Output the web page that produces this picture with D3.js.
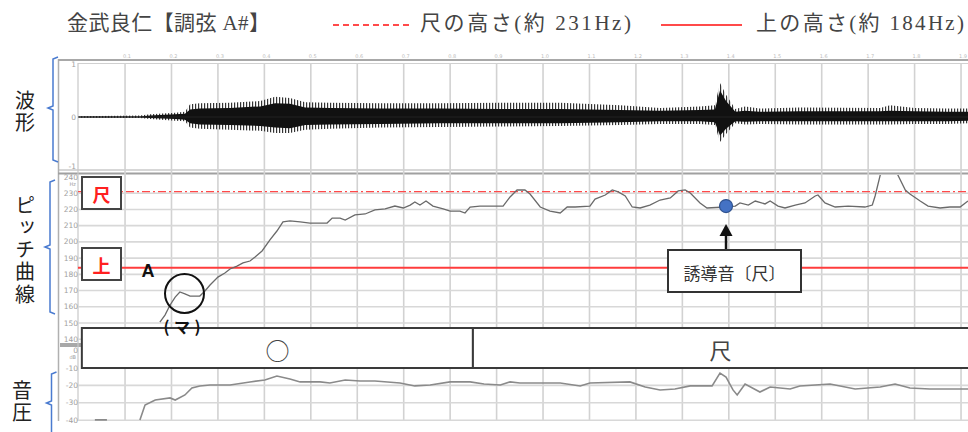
<!DOCTYPE html>
<html><head><meta charset="utf-8">
<script src="https://cdn.jsdelivr.net/npm/d3@7"></script>
<style>html,body{margin:0;padding:0;background:#fff;overflow:hidden}</style>
</head><body><svg id="c" width="968" height="432"></svg>
<script>
// ---------- data ----------
const titleText = "金武良仁【調弦 A#】";
const legendLabels = ["尺の高さ(約 231Hz)", "上の高さ(約 184Hz)"];
const refNames = ["尺", "上"];
const refHz = [231, 184];
const panelNames = ["波形", "ピッチ曲線", "音圧"];

const timeTicks = [0.1,0.2,0.3,0.4,0.5,0.6,0.7,0.8,0.9,1.0,1.1,1.2,1.3,1.4,1.5,1.6,1.7,1.8,1.9];
const waveTicks = [1, 0, -1];
const pitchTicks = [240,230,220,210,200,190,180,170,160,150,140];
const pressureTicks = [0,-10,-20,-30,-40];

const waveTime  = [0.000,0.132,0.154,0.208,0.229,0.240,0.261,0.326,0.391,0.423,0.455,0.488,0.541,0.649,0.778,0.908,1.037,1.166,1.252,1.338,1.370,1.381,1.394,1.414,1.435,1.467,1.553,1.726,1.747,1.800,1.870,1.915];
const waveUpper = [0.015,0.03,0.05,0.08,0.10,0.24,0.26,0.27,0.30,0.38,0.36,0.28,0.27,0.26,0.26,0.27,0.27,0.22,0.17,0.20,0.22,0.64,0.42,0.15,0.20,0.16,0.18,0.17,0.22,0.17,0.16,0.16];
const waveLower = [-0.015,-0.02,-0.04,-0.07,-0.08,-0.20,-0.22,-0.24,-0.26,-0.30,-0.30,-0.24,-0.22,-0.20,-0.19,-0.18,-0.17,-0.15,-0.13,-0.13,-0.15,-0.47,-0.32,-0.12,-0.14,-0.13,-0.14,-0.14,-0.14,-0.13,-0.13,-0.12];
const coreUpper = [0.008,0.01,0.03,0.05,0.06,0.14,0.16,0.17,0.20,0.26,0.25,0.18,0.17,0.16,0.16,0.15,0.15,0.13,0.12,0.13,0.14,0.50,0.30,0.10,0.12,0.10,0.11,0.11,0.12,0.11,0.10,0.10];
const coreLower = [-0.008,-0.01,-0.02,-0.04,-0.05,-0.12,-0.14,-0.15,-0.17,-0.20,-0.21,-0.15,-0.14,-0.13,-0.12,-0.12,-0.12,-0.10,-0.08,-0.08,-0.10,-0.35,-0.22,-0.08,-0.09,-0.08,-0.08,-0.08,-0.08,-0.08,-0.08,-0.07];

const pitchTime = [0.175,0.186,0.197,0.208,0.218,0.229,0.240,0.261,0.272,0.283,0.300,0.315,0.326,0.341,0.354,0.369,0.380,0.395,0.412,0.427,0.440,0.455,0.477,0.498,0.520,0.535,0.546,0.563,0.574,0.595,0.617,0.638,0.660,0.681,0.699,0.714,0.724,0.735,0.748,0.763,0.785,0.800,0.821,0.832,0.843,0.864,0.892,0.914,0.929,0.944,0.961,0.972,0.994,1.015,1.037,1.052,1.069,1.101,1.112,1.134,1.149,1.162,1.177,1.192,1.209,1.230,1.252,1.274,1.291,1.306,1.317,1.338,1.353,1.392,1.414,1.424,1.442,1.457,1.478,1.489,1.506,1.521,1.543,1.564,1.586,1.592,1.607,1.629,1.657,1.693,1.709,1.715,1.726,1.735,1.755,1.764,1.780,1.790,1.812,1.829,1.855,1.876,1.898,1.915];
const pitchHz   = [150.6,154.9,161.1,166.0,169.1,167.9,166.6,166.6,169.7,173.4,178.3,180.8,183.3,185.1,187.0,188.2,190.7,194.4,201.2,206.7,212.3,212.9,212.3,211.6,211.6,211.6,214.7,214.7,213.5,216.6,217.2,219.7,220.3,222.1,220.9,222.7,224.6,222.7,225.2,222.1,220.3,219.0,219.0,217.8,221.5,222.1,222.1,222.1,227.7,232.0,232.0,229.5,221.5,219.0,217.8,221.5,221.5,222.1,226.4,228.9,232.0,230.8,228.3,221.5,220.9,222.7,225.8,227.1,231.4,232.0,230.1,224.0,220.9,221.5,222.1,224.0,222.7,225.2,223.4,225.2,222.1,220.9,222.7,224.0,228.3,228.9,224.0,221.5,222.1,221.5,222.7,228.3,241.2,252.0,252.0,241.2,232.0,229.5,225.2,222.1,220.9,221.5,221.5,225.2];

const pressureTime = [0.035,0.061,0.062,0.132,0.143,0.165,0.197,0.208,0.229,0.244,0.261,0.283,0.326,0.369,0.401,0.427,0.455,0.477,0.520,0.541,0.574,0.606,0.638,0.692,0.724,0.757,0.800,0.843,0.873,0.908,0.929,0.950,1.037,1.080,1.101,1.187,1.220,1.252,1.284,1.317,1.338,1.364,1.381,1.394,1.409,1.418,1.435,1.467,1.489,1.532,1.553,1.586,1.618,1.672,1.726,1.758,1.790,1.833,1.915];
const pressureDb   = [-39.8,-39.8,null,-39.9,-31.3,-28.4,-27.2,-28.4,-25.5,-21.5,-20.3,-19.8,-19.8,-18.0,-16.9,-14.6,-16.3,-18.0,-18.0,-18.6,-16.9,-17.5,-17.5,-18.6,-20.3,-19.8,-18.0,-18.0,-19.2,-19.8,-18.0,-18.6,-18.6,-20.3,-18.6,-18.0,-20.9,-22.6,-22.1,-20.3,-20.3,-20.3,-12.9,-15.2,-22.6,-25.5,-19.2,-23.8,-20.9,-22.1,-20.3,-19.8,-19.2,-22.1,-20.9,-19.2,-21.5,-22.1,-22.1];

const noteLabels = ["○", "尺"];
const noteStart  = [0.007, 0.849];
const noteEnd    = [0.849, 2.000];

const leadLabel = "誘導音〔尺〕";
const leadTime = [1.394];
const leadHz   = [222.1];

// ---------- scales ----------
const svg = d3.select("#c");
const x = d3.scaleLinear().domain([0, 1.915]).range([78.6, 968]);
const yW = d3.scaleLinear().domain([-1, 1]).range([170, 64]);
const yP = d3.scaleLinear().domain([150, 240]).range([323, 177]);
const yD = d3.scaleLinear().domain([0, -40]).range([350.6, 420.2]);

const defs = svg.append("defs");
[["cw",78,63,890,106],["cp",78,175,890,167],["cd",78,347,890,74]].forEach(c=>{
  defs.append("clipPath").attr("id",c[0]).append("rect").attr("x",c[1]).attr("y",c[2]).attr("width",c[3]).attr("height",c[4]);
});
defs.append("pattern").attr("id","hatch").attr("patternUnits","userSpaceOnUse").attr("width",3).attr("height",4)
  .append("rect").attr("x",0).attr("y",0).attr("width",1.2).attr("height",4).attr("fill","#333");

const CJK = "'Noto Sans CJK JP', sans-serif";
const SERIF = "'Liberation Serif', 'Noto Sans CJK JP', serif";

// ---------- frames ----------
const frame = svg.append("g");
frame.append("line").attr("x1",58.5).attr("x2",58.5).attr("y1",59).attr("y2",421).attr("stroke","#b0b0b0").attr("stroke-width",1.5);
frame.append("line").attr("x1",58).attr("x2",968).attr("y1",60).attr("y2",60).attr("stroke","#a8a8a8").attr("stroke-width",2);
frame.append("line").attr("x1",78).attr("x2",968).attr("y1",63.5).attr("y2",63.5).attr("stroke","#d0d0d0").attr("stroke-width",1);
frame.append("line").attr("x1",58).attr("x2",968).attr("y1",170).attr("y2",170).attr("stroke","#b0b0b0").attr("stroke-width",1.2);
frame.append("line").attr("x1",58).attr("x2",968).attr("y1",173.5).attr("y2",173.5).attr("stroke","#a0a0a0").attr("stroke-width",2);
frame.append("rect").attr("x",60).attr("y",343).attr("width",22).attr("height",4).attr("fill","#a8a8a8");
frame.append("line").attr("x1",78).attr("x2",78).attr("y1",63).attr("y2",421).attr("stroke","#c8c8c8").attr("stroke-width",1.2);

// grid
const grid = svg.append("g");
grid.selectAll("line.v").data(timeTicks).join("line")
  .attr("x1",d=>x(d)).attr("x2",d=>x(d)).attr("y1",63).attr("y2",421)
  .attr("stroke","#d2d2d2").attr("stroke-width",1.6);
grid.selectAll("line.hp").data(pitchTicks.filter(v=>v<240)).join("line")
  .attr("x1",78).attr("x2",968).attr("y1",d=>yP(d)).attr("y2",d=>yP(d))
  .attr("stroke","#d8d8d8").attr("stroke-width",1.6);
grid.selectAll("line.hd").data(pressureTicks.filter(v=>v<=-20)).join("line")
  .attr("x1",78).attr("x2",968).attr("y1",d=>yD(d)).attr("y2",d=>yD(d))
  .attr("stroke","#d8d8d8").attr("stroke-width",1.6);

// tick labels
const tl = svg.append("g").attr("font-family","'DejaVu Sans', sans-serif").attr("fill","#a0a0a0").attr("font-size",7.5);
tl.selectAll("text.w").data(waveTicks).join("text").attr("x",76).attr("y",d=>Math.min(yW(d)+3,168.5)).attr("text-anchor","end").text(d=>d);
tl.selectAll("text.p").data(pitchTicks).join("text").attr("x",78).attr("y",d=>yP(d)+2.5).attr("text-anchor","end").text(d=>d);
tl.append("text").attr("x",76).attr("y",yP(240)+8.5).attr("text-anchor","end").attr("font-size",5).text("Hz");
tl.selectAll("text.d").data(pressureTicks).join("text").attr("x",78).attr("y",d=>yD(d)+2.5).attr("text-anchor","end").text(d=>d);
tl.append("text").attr("x",76).attr("y",yD(0)+8.5).attr("text-anchor","end").attr("font-size",5).text("dB");
tl.selectAll("text.t").data(timeTicks).join("text").attr("x",d=>x(d)-2).attr("y",58).attr("font-size",5).attr("fill","#bbb").text(d=>d.toFixed(1));

// ---------- waveform ----------
const wIdx = d3.range(waveTime.length);
const wg = svg.append("g").attr("clip-path","url(#cw)");
wg.append("path").datum(wIdx)
  .attr("d", d3.area().x(i=>x(waveTime[i])).y0(i=>yW(waveLower[i])).y1(i=>yW(waveUpper[i])))
  .attr("fill","url(#hatch)");
wg.append("path").datum(wIdx)
  .attr("d", d3.area().x(i=>x(waveTime[i])).y0(i=>yW(coreLower[i])).y1(i=>yW(coreUpper[i])))
  .attr("fill","#111");
wg.append("line").attr("x1",x(0)).attr("x2",968).attr("y1",yW(0)).attr("y2",yW(0)).attr("stroke","#222").attr("stroke-width",1);

// ---------- pitch ----------
const pg = svg.append("g").attr("clip-path","url(#cp)");
pg.append("line").attr("x1",78).attr("x2",968).attr("y1",yP(refHz[0])).attr("y2",yP(refHz[0]))
  .attr("stroke","#ff4a4a").attr("stroke-width",1.4).attr("stroke-dasharray","8,3,2,3");
pg.append("line").attr("x1",78).attr("x2",968).attr("y1",yP(refHz[1])).attr("y2",yP(refHz[1]))
  .attr("stroke","#ff3c3c").attr("stroke-width",2);
pg.append("path").datum(d3.range(pitchTime.length))
  .attr("d", d3.line().x(i=>x(pitchTime[i])).y(i=>yP(pitchHz[i])))
  .attr("fill","none").attr("stroke","#6a6a6a").attr("stroke-width",1.3);

// ---------- pressure ----------
const dg = svg.append("g").attr("clip-path","url(#cd)");
dg.append("path").datum(d3.range(pressureTime.length))
  .attr("d", d3.line().defined(i=>pressureDb[i]!==null).x(i=>x(pressureTime[i])).y(i=>yD(pressureDb[i])))
  .attr("fill","none").attr("stroke","#8a8a8a").attr("stroke-width",1.6);

// ---------- note boxes ----------
const nb = svg.append("g");
noteLabels.forEach((lab,i)=>{
  const x0 = x(noteStart[i]), x1 = Math.min(x(noteEnd[i]), 990);
  nb.append("rect").attr("x",x0).attr("y",328).attr("width",x1-x0).attr("height",40)
    .attr("fill","#fff").attr("stroke","#3a3a3a").attr("stroke-width",2);
  const cx = i===0 ? (x0+x1)/2 : (x0+968)/2;
  nb.append("text").attr("x",cx).attr("y",349).attr("text-anchor","middle").attr("dominant-baseline","central")
    .attr("font-family",CJK).attr("font-size",i===0?24:22).attr("fill","#444").text(lab);
});

// ---------- reference boxes ----------
const rb = svg.append("g");
const refBoxY = [177, 248];
refNames.forEach((n,i)=>{
  rb.append("rect").attr("x",82).attr("y",refBoxY[i]).attr("width",39).attr("height",32)
    .attr("fill","#fff").attr("stroke","#444").attr("stroke-width",2);
  rb.append("text").attr("x",101.5).attr("y",refBoxY[i]+16.5).attr("text-anchor","middle").attr("dominant-baseline","central")
    .attr("font-family",CJK).attr("font-weight","bold").attr("font-size",18).attr("fill","#ff2020").text(n);
});

// annotations: A, circle, (マ)
const an = svg.append("g");
an.append("text").attr("x",148).attr("y",277).attr("text-anchor","middle")
  .attr("font-family","'Liberation Sans', Arial, sans-serif").attr("font-weight","bold").attr("font-size",18).attr("fill","#111").text("A");
an.append("circle").attr("cx",184.5).attr("cy",293.5).attr("r",19.5).attr("fill","none").attr("stroke","#111").attr("stroke-width",2);
an.append("text").attr("x",182).attr("y",333).attr("text-anchor","middle").attr("textLength",37).attr("lengthAdjust","spacing")
  .attr("font-family",CJK).attr("font-weight","bold").attr("font-size",16).attr("fill","#111").text("(マ)");

// lead tone marker
const lx = x(leadTime[0]), ly = yP(leadHz[0]);
an.append("line").attr("x1",lx).attr("x2",lx).attr("y1",250).attr("y2",234).attr("stroke","#111").attr("stroke-width",2.5);
an.append("path").attr("d",`M${lx},${224} L${lx-6.5},${236} L${lx+6.5},${236} Z`).attr("fill","#111");
an.append("rect").attr("x",668).attr("y",250).attr("width",133).attr("height",42).attr("fill","#fff").attr("stroke","#333").attr("stroke-width",2);
an.append("text").attr("x",734.5).attr("y",272).attr("text-anchor","middle").attr("dominant-baseline","central")
  .attr("font-family",CJK).attr("font-size",17).attr("fill","#333").text(leadLabel);
an.append("circle").attr("cx",lx).attr("cy",ly).attr("r",6.5).attr("fill","#4472c4").attr("stroke","#2f528f").attr("stroke-width",1.2);

// ---------- panel labels (vertical) & brackets ----------
const panelTop = [90, 195, 380];
const panelX = [25, 25, 22];
panelNames.forEach((nm,i)=>{
  svg.append("text").attr("x",panelX[i]).attr("y",panelTop[i])
    .attr("font-family",CJK).attr("font-size",20).attr("fill","#222")
    .attr("writing-mode","vertical-rl").attr("letter-spacing",2.3)
    .attr("text-anchor","start").text(nm);
});
const brackets = [[53,57,108,162],[50,180,247,314],[51.5,372,403,440]];
brackets.forEach(b=>{
  const [bx,t,m,bt]=b;
  svg.append("path").attr("d",`M${bx+5},${t} L${bx},${t+2} L${bx},${m-2} L${bx-5},${m} L${bx},${m+2} L${bx},${bt-2} L${bx+5},${bt}`)
    .attr("fill","none").attr("stroke","#4a7bd0").attr("stroke-width",1.5);
});

// ---------- title & legend ----------
const hd = svg.append("g").attr("font-family",SERIF).attr("font-size",21).attr("fill","#444");
hd.append("text").attr("x",67).attr("y",30).attr("textLength",203).attr("lengthAdjust","spacing").text(titleText);
hd.append("line").attr("x1",333).attr("x2",412).attr("y1",25).attr("y2",25).attr("stroke","#ff4a4a").attr("stroke-width",2).attr("stroke-dasharray","6,4");
hd.append("text").attr("x",420).attr("y",30).attr("textLength",211).attr("lengthAdjust","spacing").text(legendLabels[0]);
hd.append("line").attr("x1",661).attr("x2",742).attr("y1",25).attr("y2",25).attr("stroke","#ff4a4a").attr("stroke-width",2);
hd.append("text").attr("x",756).attr("y",30).attr("textLength",208).attr("lengthAdjust","spacing").text(legendLabels[1]);
</script></body></html>
